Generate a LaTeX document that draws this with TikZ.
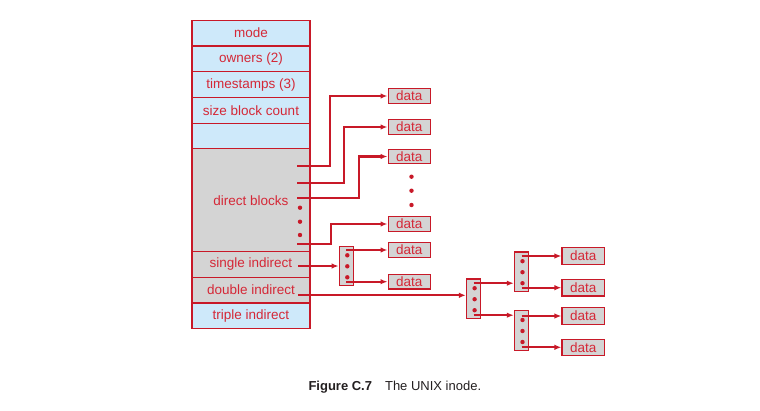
\documentclass[tikz,border=0pt]{standalone}
\usepackage{fontspec}
\setmainfont{Liberation Sans}
\usetikzlibrary{positioning,arrows.meta}
\definecolor{inodered}{RGB}{200,25,40}
\definecolor{inodetext}{RGB}{212,40,55}
\definecolor{inodeblue}{RGB}{206,233,250}
\definecolor{inodegray}{RGB}{212,212,212}
\definecolor{capgray}{RGB}{35,31,32}

\begin{document}
\begin{tikzpicture}[x=1pt,y=-1pt,>={Latex[length=7pt,width=5.5pt]}]
    \def\rh{25.7}
    \tikzstyle{cell}= [draw=inodered, line width=1.1pt, minimum width=118pt, minimum height=\rh pt, inner sep=0pt, outer sep=0pt, text=inodetext, font=\fontsize{13.5}{16}\selectfont]
    \tikzstyle{data}= [draw=inodered, fill=inodegray, line width=1.1pt, minimum width=42.5pt, minimum height=14.5pt, inner sep=0pt, text=inodetext, font=\fontsize{13.5}{16}\selectfont]
    \tikzstyle{ptr}= [draw=inodered, fill=inodegray, line width=1.1pt, minimum width=14.3pt, minimum height=39.5pt, inner sep=0pt]
    \tikzstyle{wire}= [inodered, line width=2.2pt, ->]
  \def\bdot(#1){\fill[inodered] (#1) circle (2.2pt)}

  \useasboundingbox (0,0) rectangle (760,410);

  % the inode
  \node[cell,fill=inodeblue] (mode) at (251,33.15) {mode};
  \foreach \lab/\name/\prev in {owners (2)/owners/mode, timestamps (3)/stamps/owners, size block count/size/stamps, /blank/size}
    \node[cell,fill=inodeblue,below=0pt of \prev] (\name) {\lab};
  \node[cell,fill=inodegray,minimum height=4*\rh pt,below=0pt of blank] (direct) {direct blocks};
  \node[cell,fill=inodegray,below=0pt of direct] (single) {single indirect};
  \node[cell,fill=inodegray,below=0pt of single] (double) {double indirect};
  \node[cell,fill=inodeblue,below=0pt of double] (triple) {triple indirect};

  % direct blocks
  \foreach \y [count=\i] in {166,183,198,244}
    \coordinate (d\i) at (297,\y);
  \foreach \y [count=\i] in {96,127,156.5,224}
    \node[data] (data\i) at (409.3,\y) {data};
  \foreach \t [count=\i] in {33,47,62,34}
    \draw[wire] (d\i) -- ++(\t,0) |- (data\i);

  \foreach \y in {207.7,221.7,235}
    \bdot(300,\y);
  \foreach \y in {176.7,190.7,205}
    \bdot(411.5,\y);

  % index blocks
  \node[ptr] (sblk) at (346.3,265.8) {};
  \node[ptr] (dblk) at (473.6,298.7) {};
  \node[ptr] (tblk) at (521.5,271.7) {};
  \node[ptr] (bblk) at (521.5,330.5) {};

  \node[data] (data5) at (409.3,250) {data};
  \node[data] (data6) at (409.3,281.7) {data};
  \foreach \y [count=\i] in {256,287.7,316,347.3}
    \node[data,minimum height=16.5pt] (rdat\i) at (583.2,\y) {data};

  \coordinate (si) at (298,266);
  \coordinate (di) at (298,295.3);
  \draw[wire] (si) -- (si -| sblk.west);
  \draw[wire] (di) -- (di -| dblk.west);

  \foreach \b/\u/\v in {sblk/data5/data6, tblk/rdat1/rdat2, bblk/rdat3/rdat4} {
    \draw[wire] (\b.center |- \u) -- (\u);
    \draw[wire] (\b.center |- \v) -- (\v);
  }
  \foreach \s/\t in {15.5/tblk, -16.5/bblk}
    \draw[wire] ([yshift=\s pt]dblk.center) coordinate (l1) -- (l1 -| \t.west);

  \foreach \b in {sblk,dblk,tblk,bblk}
    \foreach \dy in {10.5,-0.5,-11.5}
      \bdot([xshift=1pt,yshift=\dy pt]\b.center);

  \node[anchor=west,inner sep=0pt,text=capgray,font=\fontsize{13}{15}\selectfont] (caption) at (308.3,387) {\textbf{Figure C.7}\quad The UNIX inode.};

\end{tikzpicture}
\end{document}
